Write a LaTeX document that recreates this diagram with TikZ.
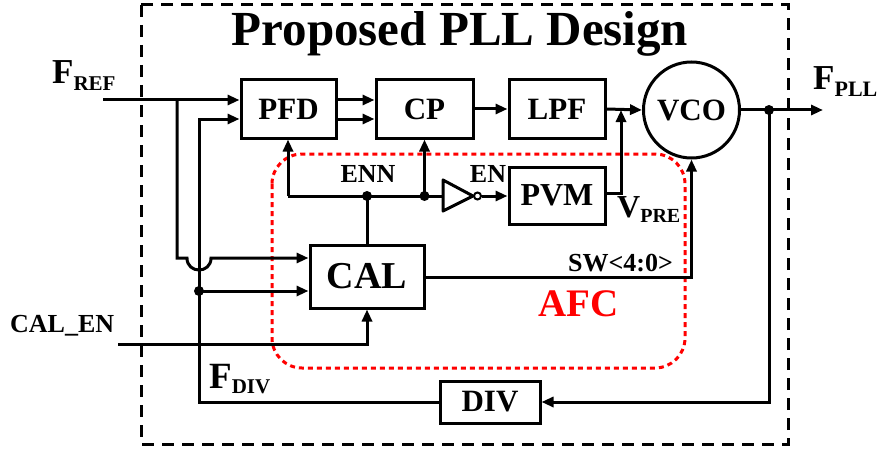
\documentclass[tikz,border=0pt]{standalone}
\usepackage{fontspec}
\setmainfont{Liberation Serif}
\usetikzlibrary{arrows.meta}
\begin{document}
\begin{tikzpicture}[x=1pt,y=-1pt,
  blk/.style={draw, line width=3pt, inner sep=0pt, font=\fontsize{31}{31}\selectfont\bfseries},
  wire/.style={line width=3pt},
  arr/.style={wire, -{Triangle[length=12pt,width=10pt]}},
  dotn/.style={circle, fill, inner sep=0pt, minimum size=10pt},
  lbl/.style={inner sep=0pt, font=\fontsize{26}{26}\selectfont\bfseries}]
\useasboundingbox (0,0) rectangle (887,452);
% outer dashed frame and AFC region
\draw[line width=3pt, dash pattern=on 12pt off 8pt] (141,5) rectangle (788,444);
\draw[red, line width=3pt, dash pattern=on 5pt off 4pt, rounded corners=30pt] (272,154) rectangle (685,368);
% blocks
\node[blk, minimum width=95pt, minimum height=58pt] (pfd) at (288.5,109) {PFD};
\node[blk, minimum width=97pt, minimum height=58pt] (cp) at (424.5,109) {CP};
\node[blk, minimum width=96pt, minimum height=58pt] (lpf) at (557,109) {LPF};
\node[blk, circle, minimum size=96pt] (vco) at (691.5,110) {VCO};
\node[blk, minimum width=96pt, minimum height=57pt, font=\fontsize{32}{32}\selectfont\bfseries] (pvm) at (557,195.5) {PVM};
\node[blk, minimum width=114pt, minimum height=63pt, font=\fontsize{38}{38}\selectfont\bfseries] (cal) at (367,276.5) {CAL};
\node[blk, minimum width=100pt, minimum height=42pt] (div) at (490,402) {DIV};
% FREF input
\coordinate (fref) at (103,100);
\draw[arr] (fref) -- (fref -| pfd.west);
\coordinate (j1) at (177,100);
\coordinate (h1) at (187,258);
\coordinate (h2) at (211,258);
\draw[arr] (j1) -- (j1 |- h1) -- (h1) .. controls ([yshift=-16pt]h1) and ([yshift=-16pt]h2) .. (h2) -- (h2 -| cal.west);
% FDIV feedback
\coordinate (dv) at (199,402);
\coordinate (p2) at (199,119);
\draw[arr] (div.west) -- (dv) -- (p2) -- (p2 -| pfd.west);
\coordinate (jd) at (199,291);
\draw[arr] (jd) -- (jd -| cal.west);
% forward path
\draw[arr] (fref -| pfd.east) -- (fref -| cp.west);
\draw[arr] (p2 -| pfd.east) -- (p2 -| cp.west);
\draw[arr] (cp.east) -- (lpf.west);
\draw[arr] (lpf.east) -- (vco.west);
\coordinate (vp) at (621,193);
\draw[arr] (vp -| pvm.east) -- (vp) -- (vp |- vco.west);
\coordinate (fpll) at (823,110);
\draw[arr] (vco.east) -- (fpll);
\coordinate (jo) at (769,110);
\draw[arr] (jo) -- (jo |- div.east) -- (div.east);
% ENN / EN
\coordinate (en1) at (288,196);
\coordinate (ennd) at (367,196);
\coordinate (cpd) at (424.5,196);
\coordinate (invin) at (443,196);
\draw[arr] (en1) -- (en1 |- pfd.south);
\draw[wire] (en1) -- (invin);
\draw[arr] (cpd) -- (cp.south);
\draw[wire] (cal.north) -- (ennd);
\draw[wire, line join=round] (invin) -- ([yshift=16pt]invin) -- ([xshift=30pt]invin) -- ([yshift=-15pt]invin) -- cycle;
\node[circle, draw, line width=2pt, fill=white, minimum size=7pt, inner sep=0pt] (bub) at (477.5,196) {};
\draw[arr] (bub.east) -- (bub -| pvm.west);
% SW and CAL_EN
\coordinate (sw) at (691.5,277);
\draw[arr] (sw -| cal.east) -- (sw) -- (vco.south);
\coordinate (ce) at (118,344);
\draw[arr] (ce) -- (ce -| cal.south) -- (cal.south);
% dots
\node[dotn] at (jd) {};
\node[dotn] at (jo) {};
\node[dotn] at (ennd) {};
\node[dotn] at (cpd) {};
% labels
\node[lbl, anchor=base, font=\fontsize{49}{49}\selectfont\bfseries] (title) at (460,46) {Proposed PLL Design};
\node[lbl, anchor=base west] (lfref) at (52,84) {\fontsize{35}{35}\selectfont F\fontsize{21}{21}\selectfont\raisebox{-7pt}{REF}};
\node[lbl, anchor=base west] (lfpll) at (813,90) {\fontsize{35}{35}\selectfont F\fontsize{22}{22}\selectfont\raisebox{-6pt}{PLL}};
\node[lbl, anchor=base west] (lfdiv) at (209,388) {\fontsize{37}{37}\selectfont F\fontsize{21}{21}\selectfont\raisebox{-5pt}{DIV}};
\node[lbl, anchor=base west] (lvpre) at (617,217) {\fontsize{32}{32}\selectfont V\fontsize{20}{20}\selectfont\raisebox{-5pt}{PRE}};
\node[lbl, anchor=base west] (lcalen) at (10,332) {CAL\_EN};
\node[lbl, anchor=base] (lenn) at (368,182) {ENN};
\node[lbl, anchor=base] (len) at (488,182) {EN};
\node[lbl, anchor=base west] (lsw) at (568,271) {SW<4:0>};
\node[lbl, anchor=base, text=red, font=\fontsize{39}{39}\selectfont\bfseries] (lafc) at (578.5,316) {AFC};
\end{tikzpicture}
\end{document}
